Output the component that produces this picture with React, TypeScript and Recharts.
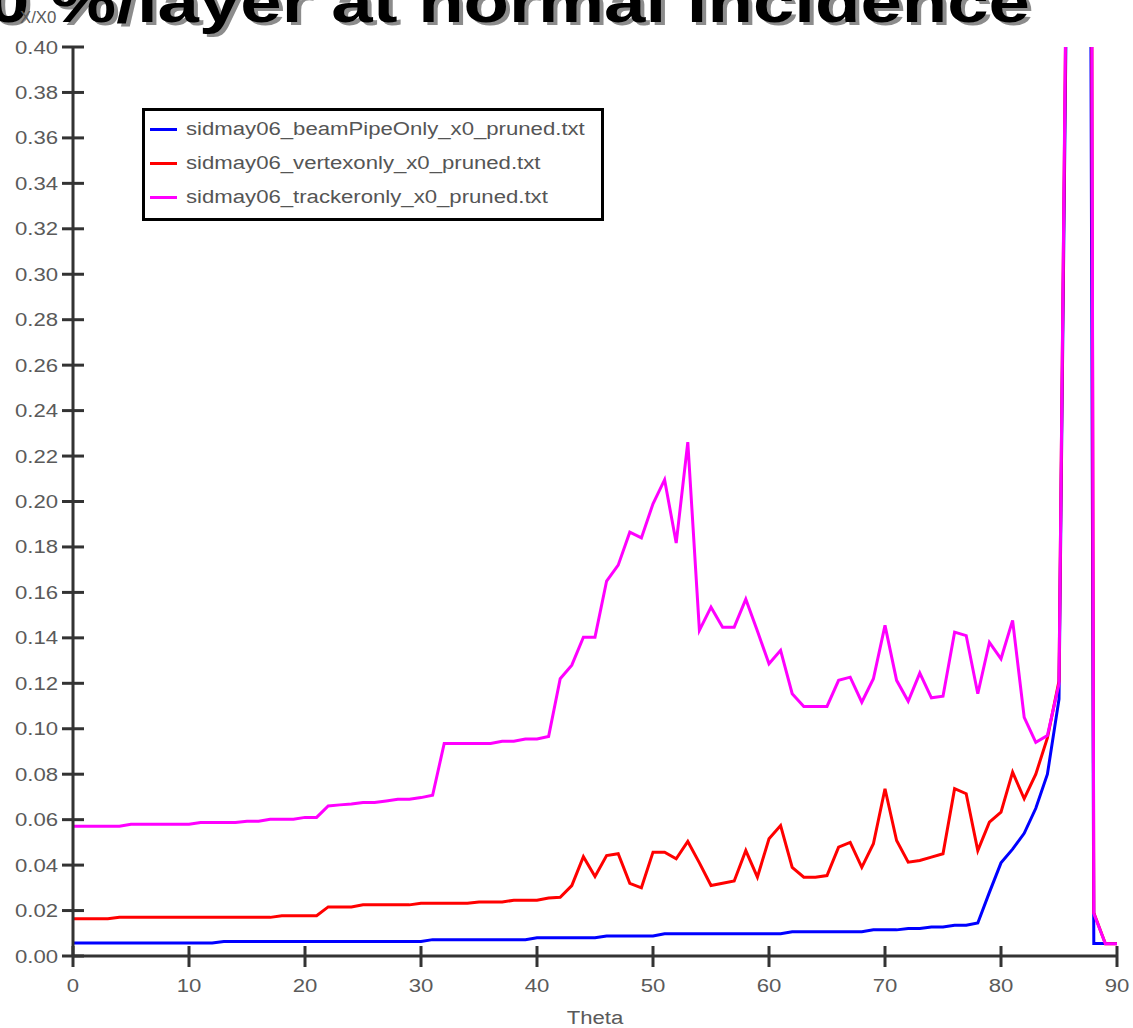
import React from 'react';
import { LineChart, Line, XAxis, YAxis, Legend } from 'recharts';

// x grid: one sample per degree
const THETA = Array.from({ length: 91 }, (_, i) => i);

const BEAM_PIPE = [
  0.0057, 0.0057, 0.0057, 0.0057, 0.0057, 0.0057, 0.0057, 0.0057, 0.0057, 0.0057,
  0.0057, 0.0057, 0.0057, 0.0064, 0.0064, 0.0064, 0.0064, 0.0064, 0.0064, 0.0064,
  0.0064, 0.0064, 0.0064, 0.0064, 0.0064, 0.0064, 0.0064, 0.0064, 0.0064, 0.0064,
  0.0064, 0.0072, 0.0072, 0.0072, 0.0072, 0.0072, 0.0072, 0.0072, 0.0072, 0.0072,
  0.008, 0.008, 0.008, 0.008, 0.008, 0.008, 0.0088, 0.0088, 0.0088, 0.0088,
  0.0088, 0.0098, 0.0098, 0.0098, 0.0098, 0.0098, 0.0098, 0.0098, 0.0098, 0.0098,
  0.0098, 0.0098, 0.0107, 0.0107, 0.0107, 0.0107, 0.0107, 0.0107, 0.0107, 0.0115,
  0.0115, 0.0115, 0.0121, 0.0121, 0.0128, 0.0128, 0.0135, 0.0135, 0.0145, 0.028,
  0.041, 0.047, 0.054, 0.065, 0.08, 0.113, 0.6, 1.6, 0.0055, 0.0055,
  0.0055,
];

const VERTEX = [
  0.0164, 0.0164, 0.0164, 0.0164, 0.017, 0.017, 0.017, 0.017, 0.017, 0.017,
  0.017, 0.017, 0.017, 0.017, 0.017, 0.017, 0.017, 0.017, 0.0177, 0.0177,
  0.0177, 0.0177, 0.0216, 0.0216, 0.0216, 0.0225, 0.0225, 0.0225, 0.0225, 0.0225,
  0.0232, 0.0232, 0.0232, 0.0232, 0.0232, 0.0238, 0.0238, 0.0238, 0.0245, 0.0245,
  0.0245, 0.0255, 0.0258, 0.031, 0.0437, 0.035, 0.0442, 0.045, 0.032, 0.03,
  0.0457, 0.0457, 0.0428, 0.0504, 0.041, 0.031, 0.032, 0.033, 0.0464, 0.0347,
  0.0516, 0.0574, 0.039, 0.0347, 0.0347, 0.0354, 0.0479, 0.05, 0.039, 0.0494,
  0.0736, 0.0508, 0.0413, 0.042, 0.0435, 0.045, 0.0736, 0.0714, 0.0464, 0.0589,
  0.0633, 0.0809, 0.0692, 0.08, 0.096, 0.121, 0.62, 2.3, 0.019, 0.0054,
  0.0054,
];

const TRACKER = [
  0.0571, 0.0571, 0.0571, 0.0571, 0.0571, 0.058, 0.058, 0.058, 0.058, 0.058,
  0.058, 0.0587, 0.0587, 0.0587, 0.0587, 0.0593, 0.0593, 0.0602, 0.0602, 0.0602,
  0.061, 0.061, 0.066, 0.0665, 0.0669, 0.0675, 0.0675, 0.0682, 0.069, 0.069,
  0.0697, 0.0707, 0.0935, 0.0935, 0.0935, 0.0935, 0.0935, 0.0945, 0.0945, 0.0955,
  0.0955, 0.0966, 0.122, 0.128, 0.1403, 0.1403, 0.165, 0.172, 0.1865, 0.184,
  0.199, 0.2096, 0.1817, 0.2261, 0.1433, 0.1535, 0.1447, 0.1447, 0.157, 0.143,
  0.1286, 0.1345, 0.1154, 0.1098, 0.1098, 0.1098, 0.1213, 0.1227, 0.1117, 0.122,
  0.1455, 0.1213, 0.1121, 0.1245, 0.1136, 0.1143, 0.1425, 0.141, 0.1154, 0.138,
  0.1308, 0.1477, 0.105, 0.094, 0.097, 0.1198, 0.63, 2.4, 0.0187, 0.0054,
  0.0054,
];

const SERIES = [
  { key: 'beamPipe', name: 'sidmay06_beamPipeOnly_x0_pruned.txt', color: '#0000ff', values: BEAM_PIPE },
  { key: 'vertex', name: 'sidmay06_vertexonly_x0_pruned.txt', color: '#ff0000', values: VERTEX },
  { key: 'tracker', name: 'sidmay06_trackeronly_x0_pruned.txt', color: '#ff00ff', values: TRACKER },
];

const X_TICKS = [0, 10, 20, 30, 40, 50, 60, 70, 80, 90];
const Y_TICKS = [
  0, 0.02, 0.04, 0.06, 0.08, 0.1, 0.12, 0.14, 0.16, 0.18, 0.2,
  0.22, 0.24, 0.26, 0.28, 0.3, 0.32, 0.34, 0.36, 0.38, 0.4,
];

const TITLE = 'X0 %/layer at normal incidence';
const Y_LABEL = 'X/X0';
const X_LABEL = 'Theta';

const data = THETA.map((theta, i) => {
  const row: Record<string, number> = { theta };
  SERIES.forEach(s => { row[s.key] = s.values[i]; });
  return row;
});

const AXIS = '#333333';
const LABEL = '#5a5a5a';
const FONT = '"Liberation Sans", Arial, sans-serif';
const STRETCH = 1.23;

const YTick = (props: any) => {
  const { x, y, payload } = props;
  return (
    <g>
      <line x1={x + 4} x2={x + 26} y1={y} y2={y} stroke={AXIS} strokeWidth={3} />
      <text
        transform={`translate(${x},${y + 6.5}) scale(${STRETCH},1)`}
        textAnchor="end"
        fontSize={18}
        fontFamily={FONT}
        fill={LABEL}
      >
        {Number(payload.value).toFixed(2)}
      </text>
    </g>
  );
};

const XTick = (props: any) => {
  const { x, y, payload } = props;
  return (
    <g>
      <line x1={x} x2={x} y1={y - 10} y2={y + 11} stroke={AXIS} strokeWidth={3} />
      <text
        transform={`translate(${x},${y + 36}) scale(${STRETCH},1)`}
        textAnchor="middle"
        fontSize={18}
        fontFamily={FONT}
        fill={LABEL}
      >
        {payload.value}
      </text>
    </g>
  );
};

const LegendBox = () => (
  <div
    style={{
      border: '3px solid #000',
      background: '#fff',
      width: 456,
      height: 106,
      paddingTop: 1,
      boxSizing: 'content-box',
      fontFamily: FONT,
    }}
  >
    {SERIES.map(s => (
      <div key={s.key} style={{ height: 34, display: 'flex', alignItems: 'center' }}>
        <div style={{ marginLeft: 5, width: 27, height: 3, background: s.color }} />
        <span
          style={{
            marginLeft: 9,
            fontSize: 18,
            color: '#555',
            display: 'inline-block',
            transform: `scaleX(${STRETCH})`,
            transformOrigin: 'left center',
            whiteSpace: 'nowrap',
          }}
        >
          {s.name}
        </span>
      </div>
    ))}
  </div>
);

export default function App() {
  return (
    <div style={{ position: 'absolute', left: 0, top: 0, width: 1133, height: 1028, background: '#fff' }}>
      <LineChart width={1133} height={1028} data={data} margin={{ top: 47, right: 16, bottom: 0, left: 0 }}>
        <XAxis
          dataKey="theta"
          type="number"
          domain={[0, 90]}
          ticks={X_TICKS}
          interval={0}
          height={72}
          tickSize={0}
          tickMargin={0}
          tickLine={false}
          axisLine={{ stroke: AXIS, strokeWidth: 3 }}
          tick={<XTick />}
        />
        <YAxis
          type="number"
          domain={[0, 0.4]}
          allowDataOverflow
          ticks={Y_TICKS}
          interval={0}
          width={73}
          tickSize={0}
          tickMargin={15}
          tickLine={false}
          axisLine={{ stroke: AXIS, strokeWidth: 3 }}
          tick={<YTick />}
        />
        <Legend
          layout="vertical"
          align="center"
          verticalAlign="middle"
          wrapperStyle={{ left: 142, top: 108, width: 'auto', height: 'auto' }}
          content={() => <LegendBox />}
        />
        {SERIES.map(s => (
          <Line
            key={s.key}
            dataKey={s.key}
            name={s.name}
            type="linear"
            stroke={s.color}
            strokeWidth={3}
            dot={false}
            activeDot={false}
            isAnimationActive={false}
          />
        ))}
      </LineChart>
      <svg
        width={1133}
        height={1028}
        style={{ position: 'absolute', left: 0, top: 0, pointerEvents: 'none' }}
      >
        <g fontFamily={FONT} fontWeight="bold" fontSize={60} textAnchor="end">
          <text transform="translate(1034,25) scale(1.24,1)" fill="#8c8c8c">{TITLE}</text>
          <text transform="translate(1030,22) scale(1.24,1)" fill="#000">{TITLE}</text>
        </g>
        <text transform="translate(20,23) scale(1.05,1)" fontFamily={FONT} fontSize={16} fill={LABEL}>
          {Y_LABEL}
        </text>
        <text
          transform={`translate(595,1024) scale(${STRETCH},1)`}
          textAnchor="middle"
          fontFamily={FONT}
          fontSize={18}
          fill={LABEL}
        >
          {X_LABEL}
        </text>
      </svg>
    </div>
  );
}
